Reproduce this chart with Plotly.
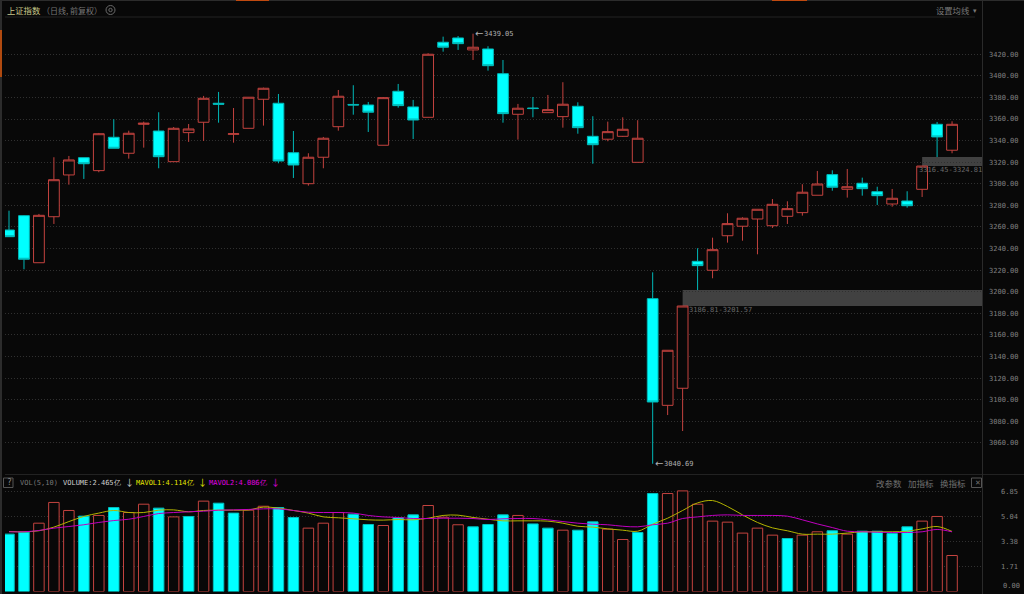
import plotly.graph_objects as go

W, H = 1024, 594
BG = "#080808"
RED = "#c4433f"
CYAN = "#00ffff"
MONO = "DejaVu Sans Mono"
CJK = "Noto Sans CJK SC"

candle_open = [3257.2,3270.5,3226.9,3269.5,3308.2,3324.2,3312.2,3343.1,3328.3,3355.1,3348.9,3320.5,3347.4,3357.0,3374.6,3345.9,
               3351.4,3378.3,3374.6,3328.8,3300.1,3324.6,3352.9,3373.5,3373.0,3335.7,3385.7,3371.2,3361.6,3431.1,3435.1,3424.0,
               3424.9,3402.0,3364.4,3370.2,3365.9,3362.2,3371.8,3344.0,3341.3,3344.0,3319.9,3193.6,3094.8,3110.6,3228.2,3219.9,
               3251.9,3260.7,3267.4,3261.2,3269.9,3273.3,3289.4,3308.5,3294.9,3300.5,3292.7,3281.3,3284.1,3294.9,3355.1,3331.1]
candle_close = [3251.0,3230.1,3270.8,3303.8,3322.1,3318.6,3346.4,3332.9,3346.8,3356.1,3325.1,3351.4,3350.8,3379.2,3373.7,3346.3,
                3380.2,3388.5,3321.1,3317.4,3324.6,3342.2,3381.1,3373.0,3366.3,3379.8,3372.4,3359.1,3420.0,3426.5,3429.8,3426.5,
                3409.4,3365.0,3370.0,3369.7,3368.7,3373.7,3352.0,3336.2,3348.3,3350.5,3342.2,3097.9,3145.8,3186.81,3224.2,3239.0,
                3263.1,3268.1,3276.4,3281.0,3277.0,3292.2,3299.8,3296.8,3297.3,3295.5,3289.0,3286.6,3279.7,3316.45,3343.4,3355.1]
candle_high = [3275.1,3271.1,3272.1,3324.6,3325.8,3324.2,3347.1,3359.8,3349.2,3357.6,3366.3,3352.6,3355.4,3381.4,3385.1,3370.2,
               3380.2,3389.1,3383.2,3348.9,3328.3,3343.4,3386.9,3391.3,3375.8,3380.4,3392.5,3377.7,3420.9,3436.3,3436.9,3439.05,
               3427.4,3414.7,3374.0,3380.4,3382.3,3394.1,3375.5,3362.6,3357.6,3361.6,3358.9,3218.0,3145.8,3186.81,3240.3,3250.1,
               3272.7,3269.0,3276.4,3285.9,3283.8,3299.6,3311.9,3312.5,3313.7,3305.7,3297.3,3295.2,3293.1,3316.45,3357.3,3357.9]
candle_low = [3251.0,3220.8,3226.9,3262.8,3299.2,3304.5,3310.7,3332.9,3323.3,3333.5,3314.4,3320.5,3338.8,3339.7,3356.6,3338.1,
              3351.4,3353.9,3319.0,3305.4,3298.3,3314.4,3349.2,3364.0,3348.0,3335.7,3370.5,3341.5,3361.6,3422.4,3424.0,3414.7,
              3404.8,3356.6,3340.9,3361.6,3365.9,3352.0,3346.4,3318.6,3339.4,3343.4,3319.9,3040.69,3085.8,3071.0,3201.57,3212.5,
              3245.5,3247.3,3234.7,3259.1,3262.8,3270.5,3289.4,3293.6,3287.2,3289.0,3280.4,3278.8,3277.9,3287.8,3324.81,3328.3]

volume = [3.93,4.06,4.68,6.10,5.55,5.16,5.21,5.75,5.41,5.98,5.71,5.11,5.14,6.19,6.05,5.37,
          5.57,5.84,5.75,5.07,4.34,4.68,5.41,5.30,4.59,4.52,5.05,5.25,5.89,5.09,4.57,4.43,
          4.59,5.25,5.21,4.63,4.34,4.20,4.20,4.77,4.27,3.56,4.04,6.71,6.71,6.89,5.98,4.82,
          4.75,4.00,4.34,3.86,3.63,3.86,4.09,4.16,3.93,4.13,4.13,3.97,4.43,4.82,5.14,2.465]
volume_up = "ccrrrcrcrrcrcrccrrccrrrccrccrrrcccrccrccrrccrrrrrrrrcrrcrccccrrr"

mavol1 = [4.11,4.09,4.16,4.41,4.79,5.14,5.37,5.55,5.41,5.41,5.57,5.59,5.46,5.55,5.57,5.57,
          5.59,5.78,5.71,5.55,5.37,5.11,5.05,4.98,4.91,4.89,4.93,4.91,5.02,5.21,5.23,5.07,
          4.95,4.84,4.84,4.84,4.82,4.68,4.47,4.41,4.29,4.20,4.13,4.61,5.02,5.55,6.07,6.23,
          5.82,5.25,4.73,4.36,4.16,3.93,3.93,3.93,4.00,4.09,4.09,4.09,4.13,4.29,4.45,4.114]
mavol2 = [4.09,4.09,4.18,4.34,4.45,4.57,4.73,4.86,4.95,5.14,5.34,5.41,5.46,5.50,5.57,5.59,
          5.62,5.66,5.66,5.55,5.43,5.41,5.41,5.37,5.21,5.11,5.07,5.00,5.00,5.02,5.02,5.00,
          4.93,4.98,5.00,5.00,4.91,4.79,4.68,4.61,4.57,4.47,4.43,4.57,4.68,5.00,5.11,5.21,
          5.25,5.21,5.21,5.21,5.16,4.91,4.63,4.38,4.13,4.09,4.06,4.04,4.04,4.09,4.25,4.086]

x_idx = list(range(len(candle_open)))
price_ticks = list(range(3060, 3421, 20))
vol_grid = [1.71, 3.42, 5.13, 6.84]
vol_labels = ["1.71", "3.38", "5.04", "6.85"]
gaps = [(45, 3186.81, 3201.57), (61, 3316.45, 3324.81)]


def px(x):
    return x / W


def py(y):
    return 1 - y / H


def text(x, y, s, color, size=7, font=MONO, anchor="left", **kw):
    return dict(xref="paper", yref="paper", x=px(x), y=py(y), text=s, showarrow=False,
                xanchor=anchor, yanchor="middle", font=dict(color=color, size=size, family=font),
                borderpad=0, **kw)


def line(x0, y0, x1, y1, color, width=1):
    return dict(type="line", xref="paper", yref="paper", x0=px(x0), y0=py(y0), x1=px(x1), y1=py(y1),
                line=dict(color=color, width=width), layer="above")


fig = go.Figure()
fig.add_trace(go.Candlestick(
    x=x_idx, open=candle_open, high=candle_high, low=candle_low, close=candle_close,
    increasing=dict(line=dict(color=RED, width=1), fillcolor=BG),
    decreasing=dict(line=dict(color="#00b8b8", width=1), fillcolor=CYAN),
    whiskerwidth=0, xaxis="x", yaxis="y", showlegend=False, hoverinfo="skip"))
fig.add_trace(go.Bar(
    x=x_idx, y=volume, width=0.7, xaxis="x2", yaxis="y2", showlegend=False,
    marker=dict(color=[CYAN if c == "c" else BG for c in volume_up],
                line=dict(color=["#00c0c0" if c == "c" else RED for c in volume_up], width=1))))
fig.add_trace(go.Scatter(x=x_idx, y=mavol1, mode="lines", xaxis="x2", yaxis="y2", showlegend=False,
                         line=dict(color="#b4b400", width=1, shape="spline")))
fig.add_trace(go.Scatter(x=x_idx, y=mavol2, mode="lines", xaxis="x2", yaxis="y2", showlegend=False,
                         line=dict(color="#c000c0", width=1, shape="spline")))

shapes = []
for start, lo, hi in gaps:
    shapes.append(dict(type="rect", xref="x", yref="y", x0=start, x1=65.0, y0=lo, y1=hi,
                       fillcolor="#414141", line=dict(width=0), layer="below"))
shapes += [
    line(5, 17, 975, 17, "#222222"),
    line(5, 474.5, 1024, 474.5, "#222222"),
    line(982.5, 0, 982.5, 594, "#2a2a2a"),
    line(0, 0.5, 1024, 0.5, "#2c2c2c"),
    line(1, 0, 1, 594, "#2c2c2c", 2),
    line(1, 30, 1, 77, "#b04a10", 2),
    line(236, 0.5, 269, 0.5, "#c04a10"),
    line(772, 0.5, 807, 0.5, "#c04a10"),
    dict(type="rect", xref="paper", yref="paper", x0=px(3.5), x1=px(13), y0=py(487.5), y1=py(478),
         line=dict(color="#555555", width=1), fillcolor="rgba(0,0,0,0)"),
    dict(type="rect", xref="paper", yref="paper", x0=px(971.5), x1=px(981.5), y0=py(487.5), y1=py(478),
         line=dict(color="#555555", width=1), fillcolor="rgba(0,0,0,0)"),
    dict(type="circle", xref="paper", yref="paper", x0=px(106), x1=px(115), y0=py(14.5), y1=py(5.5),
         line=dict(color="#6a6a6a", width=1), fillcolor="rgba(0,0,0,0)"),
    dict(type="circle", xref="paper", yref="paper", x0=px(108.8), x1=px(112.2), y0=py(11.7), y1=py(8.3),
         line=dict(color="#6a6a6a", width=1), fillcolor="rgba(0,0,0,0)"),
]

annotations = [
    text(6, 10, "上证指数", "#c9c98c", 8.3, CJK),
    text(41, 10, "（日线, 前复权）", "#777777", 8, CJK),
    text(935, 10, "设置均线", "#777777", 8.3, CJK),
    text(972, 10, "▾", "#777777", 7, CJK),
    text(6, 482.5, "?", "#888888", 8),
    text(19, 482.5, "VOL(5,10)", "#777777"),
    text(62, 482.5, "VOLUME:2.465亿", "#cfcfcf"),
    text(124, 482.5, "↓", "#cfcfcf", 9, CJK),
    text(135, 482.5, "MAVOL1:4.114亿", "#e6e600"),
    text(197, 482.5, "↓", "#e6e600", 9, CJK),
    text(208, 482.5, "MAVOL2:4.086亿", "#e000e0"),
    text(270, 482.5, "↓", "#e000e0", 9, CJK),
    text(875, 482.5, "改参数", "#707070", 8.5, CJK),
    text(907, 482.5, "加指标", "#707070", 8.5, CJK),
    text(939, 482.5, "换指标", "#707070", 8.5, CJK),
    text(973.5, 482.5, "✕", "#707070", 7, "DejaVu Sans"),
    text(1002, 586, "0.00", "#808080", 7),
    dict(xref="x", yref="y", x=31, y=candle_high[31], text="←", showarrow=False, xanchor="left",
         xshift=0, font=dict(color="#b0b0b0", size=10, family="DejaVu Sans")),
    dict(xref="x", yref="y", x=31, y=candle_high[31], text="3439.05", showarrow=False, xanchor="left",
         xshift=9, font=dict(color="#b0b0b0", size=7, family=MONO)),
    dict(xref="x", yref="y", x=43, y=candle_low[43], text="←", showarrow=False, xanchor="left",
         xshift=0, font=dict(color="#b0b0b0", size=10, family="DejaVu Sans")),
    dict(xref="x", yref="y", x=43, y=candle_low[43], text="3040.69", showarrow=False, xanchor="left",
         xshift=9, font=dict(color="#b0b0b0", size=7, family=MONO)),
    text(688, 310, "3186.81-3201.57", "#6a6a6a"),
    text(918, 170, "3316.45-3324.81", "#6a6a6a"),
]

x_range = [-0.267, 65.0]
common_x = dict(range=x_range, domain=[px(5), px(982)], showgrid=False, zeroline=False,
                showticklabels=False, ticks="", showline=False, fixedrange=True)
tick_font = dict(color="#808080", size=7, family=MONO)
GRID = "#303030"
DASH = "1px,2px"
fig.update_layout(
    width=W, height=H, autosize=False,
    margin=dict(l=0, r=0, t=0, b=0, pad=0),
    paper_bgcolor=BG, plot_bgcolor=BG,
    barmode="overlay", showlegend=False,
    boxmode="overlay", boxgap=0.0, boxgroupgap=0.28,
    xaxis=dict(**common_x, anchor="y", rangeslider=dict(visible=False)),
    xaxis2=dict(**common_x, anchor="y2"),
    yaxis=dict(domain=[py(474), py(17)], range=[3031.2, 3454.5], side="right", anchor="x",
               tickvals=price_ticks, ticktext=[f"{v:.2f}" for v in price_ticks], tickfont=tick_font,
               ticklabelstandoff=6, ticks="", showline=False, zeroline=False,
               gridcolor=GRID, griddash=DASH, gridwidth=1, fixedrange=True),
    yaxis2=dict(domain=[py(591.5), py(475)], range=[0, 7.98], side="right", anchor="x2",
                tickvals=vol_grid, ticktext=vol_labels, tickfont=tick_font,
                ticklabelstandoff=18, ticks="", showline=False, zeroline=False,
                gridcolor=GRID, griddash=DASH, gridwidth=1, fixedrange=True),
    shapes=shapes, annotations=annotations,
    font=dict(family=MONO),
)
fig.write_html("out.html", config=dict(displayModeBar=False),
               post_script="document.body.style.margin='0';document.body.style.background='#080808';document.documentElement.style.overflow='hidden';")
